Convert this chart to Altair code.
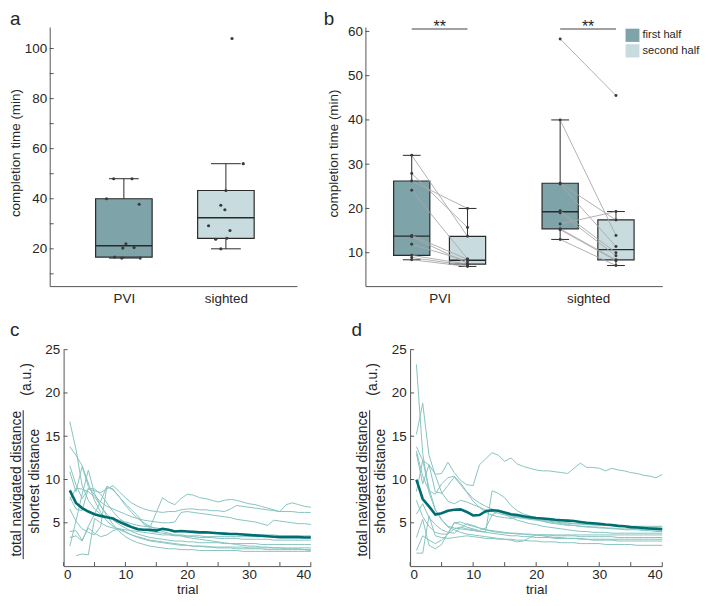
import math
import altair as alt
import pandas as pd

# ------------------------------------------------------------------ data
groups = ["PVI", "sighted"]
halves = ["first half", "second half"]

# panel a : total completion time (min), with horizontal jitter (category units)
a_pvi = [40.0, 48.0, 48.0, 37.8, 22.0, 20.3, 20.5, 16.7, 16.3, 16.3]
a_pvi_jit = [-0.17, -0.10, 0.08, 0.15, 0.02, -0.01, 0.10, -0.09, -0.02, 0.16]
a_sig = [104.0, 54.0, 43.3, 37.4, 35.6, 29.2, 27.3, 23.8, 24.2, 20.0]
a_sig_jit = [0.06, 0.17, 0.00, -0.05, -0.01, -0.17, 0.04, -0.10, 0.01, -0.05]

# panel b : completion time per half (paired by index)
b_pvi_first = [32.0, 27.9, 26.2, 24.1, 13.9, 13.6, 11.9, 9.4, 8.9, 8.4]
b_pvi_second = [13.7, 15.7, 20.0, 8.6, 8.5, 7.6, 8.1, 7.4, 7.1, 6.9]
b_sig_first = [58.3, 40.0, 25.7, 25.5, 19.5, 19.0, 16.5, 15.4, 15.2, 13.0]
b_sig_second = [45.5, 13.9, 17.4, 11.4, 10.0, 9.3, 19.3, 8.4, 8.2, 7.1]
sig_labels = ["**", "**"]

# panels c, d : total navigated distance / shortest distance per trial
trials = list(range(1, 41))
c_lines = [
    [3.3, 3.5, 2.9, 4.6, 6.0, 7.5, 9.2, 8.8, 8.0, 7.2, 6.5, 5.8, 4.8, 4.5, 6.2, 7.9, 7.4, 7.1, 7.8, 8.3,
     8.2, 7.9, 7.8, 7.6, 7.4, 7.6, 7.7, 7.6, 7.4, 7.2, 7.1, 6.9, 6.7, 6.5, 6.3, 7.1, 7.3, 7.1, 6.9, 6.8],
    [11.6, 9.4, 7.8, 8.9, 8.7, 8.5, 8.9, 9.3, 8.6, 7.9, 7.3, 6.9, 6.6, 6.4, 6.3, 6.2, 6.3, 6.3, 6.5, 6.6,
     6.6, 6.5, 6.5, 6.4, 6.4, 6.3, 6.6, 7.0, 6.9, 6.8, 6.7, 6.6, 6.5, 6.4, 6.3, 6.3, 6.3, 6.2, 6.2, 6.2],
    [10.9, 8.6, 11.5, 9.2, 8.2, 7.4, 6.9, 6.6, 6.3, 6.0, 5.7, 5.5, 5.3, 5.2, 5.1, 5.0, 5.0, 5.1, 6.2, 6.3,
     6.2, 6.1, 6.0, 5.9, 5.8, 5.7, 5.6, 5.4, 5.3, 5.2, 5.1, 4.9, 4.7, 5.3, 5.2, 5.1, 5.0, 4.9, 4.9, 4.8],
    [16.7, 13.5, 9.3, 7.6, 6.6, 6.0, 5.6, 5.4, 5.3, 5.1, 4.9, 4.7, 4.6, 4.5, 4.4, 4.3, 4.2, 4.1, 4.0, 4.0,
     3.9, 3.9, 3.9, 3.8, 3.8, 3.8, 3.7, 3.7, 3.7, 3.7, 3.6, 3.6, 3.6, 3.6, 3.5, 3.5, 3.5, 3.5, 3.5, 3.5],
    [None, 1.2, 1.4, 1.3, 5.5, 5.0, 4.6, 4.4, 4.3, 4.2, 4.1, 4.0, 3.9, 3.8, 3.7, 3.6, 3.6, 3.5, 3.5, 3.4,
     3.4, 3.3, 3.3, 3.3, 3.2, 3.2, 3.2, 3.2, 3.1, 3.1, 3.1, 3.1, 3.1, 3.0, 3.0, 3.0, 3.0, 3.0, 3.0, 3.0],
    [2.3, 5.2, 8.3, 11.1, 8.4, 6.9, 6.0, 5.3, 4.8, 4.4, 4.0, 3.7, 3.5, 3.3, 3.2, 3.1, 3.0, 2.9, 2.9, 2.8,
     2.8, 2.7, 2.7, 2.7, 2.7, 2.6, 2.6, 2.6, 2.6, 2.6, 2.6, 2.5, 2.5, 2.5, 2.5, 2.5, 2.5, 2.5, 2.5, 2.5],
    [4.0, 4.1, 3.0, 4.4, 3.8, 3.4, 3.6, 4.1, 4.3, 4.0, 3.6, 3.3, 3.1, 2.9, 2.8, 2.7, 2.6, 2.5, 2.4, 2.4,
     2.3, 2.3, 2.3, 2.2, 2.2, 2.2, 2.2, 2.2, 2.2, 2.1, 2.1, 2.1, 2.1, 2.1, 2.1, 2.1, 2.1, 2.1, 2.1, 2.1],
    [13.8, 12.8, 11.6, 9.6, 7.6, 6.2, 5.2, 4.6, 4.2, 3.9, 3.6, 3.4, 3.2, 3.0, 2.9, 2.8, 2.7, 2.6, 2.5, 2.4,
     2.3, 2.3, 2.2, 2.2, 2.1, 2.1, 2.1, 2.0, 2.0, 2.0, 2.0, 2.0, 1.9, 1.9, 1.9, 1.9, 1.9, 1.9, 1.9, 1.9],
    [7.6, 9.0, 8.9, 8.6, 8.0, 7.0, 5.8, 4.8, 4.0, 3.4, 3.0, 2.7, 2.5, 2.3, 2.2, 2.1, 2.0, 2.0, 1.9, 1.9,
     1.9, 1.8, 1.8, 1.8, 1.8, 1.8, 1.8, 1.8, 1.7, 1.7, 1.7, 1.7, 1.7, 1.7, 1.7, 1.7, 1.7, 1.7, 1.7, 1.7],
    [6.6, 5.2, 4.3, 3.9, 3.6, 4.6, 9.2, 8.9, 8.0, 7.0, 6.2, 5.5, 5.0, 4.6, 4.3, 4.0, 3.8, 3.6, 3.5, 3.3,
     3.2, 3.1, 3.0, 2.9, 2.8, 2.7, 2.6, 2.5, 2.4, 2.3, 2.3, 2.2, 2.2, 2.1, 2.1, 2.0, 2.0, 2.0, 1.9, 1.8],
    [8.0, 6.6, 6.4, 9.0, 8.9, 8.3, 7.3, 6.3, 5.5, 5.0, 4.6, 4.4, 4.2, 4.0, 3.9, 3.8, 3.7, 3.6, 3.6, 3.5,
     3.5, 3.5, 3.4, 3.4, 3.4, 3.4, 3.4, 3.4, 3.4, 3.4, 3.4, 3.4, 3.4, 3.4, 3.4, 3.4, 3.4, 3.4, 3.4, 3.4],
]
c_mean = [8.75, 7.3, 6.7, 6.3, 6.0, 5.8, 5.65, 5.5, 5.1, 4.8, 4.5, 4.25, 4.2, 4.2, 4.1, 4.3, 4.2, 4.0, 4.05, 4.0,
          3.95, 3.9, 3.9, 3.85, 3.8, 3.75, 3.7, 3.7, 3.65, 3.6, 3.55, 3.5, 3.45, 3.4, 3.35, 3.35, 3.35, 3.35, 3.3, 3.3]

d_lines = [
    [13.8, 12.2, 11.7, 10.6, 10.7, 12.0, 10.8, 9.9, 9.4, 9.3, 11.7, 12.4, 13.1, 12.8, 12.1, 12.5, 11.8, 11.5, 11.3, 11.1,
     11.0, 11.0, 10.9, 10.8, 10.7, 11.3, 11.9, 11.4, 11.4, 11.3, 11.0, 11.3, 11.1, 11.0, 10.8, 10.7, 10.5, 10.4, 10.2, 10.6],
    [23.3, 13.0, 8.5, 6.5, 5.3, 4.6, 4.4, 4.3, 4.2, 4.1, 4.0, 4.0, 8.7, 8.4, 7.9, 7.0, 6.4, 6.0, 5.8, 5.6,
     5.4, 5.3, 5.2, 5.1, 5.0, 4.9, 4.9, 4.8, 4.8, 4.7, 4.7, 4.7, 4.6, 4.6, 4.6, 4.6, 4.6, 4.6, 4.6, 4.6],
    [15.2, 18.8, 12.8, 10.5, 8.5, 7.5, 7.2, 7.6, 7.4, 7.1, 6.8, 6.5, 6.3, 6.1, 5.9, 5.8, 5.7, 5.6, 5.5, 5.4,
     5.3, 5.2, 5.1, 5.0, 4.95, 4.9, 4.85, 4.8, 4.75, 4.7, 4.7, 4.65, 4.6, 4.6, 4.55, 4.55, 4.5, 4.5, 4.5, 4.5],
    [13.3, 10.4, 8.7, 8.3, 9.5, 10.2, 10.4, 9.6, 8.6, 7.8, 7.3, 6.9, 6.6, 6.3, 6.0, 5.8, 5.6, 5.5, 5.4, 5.3,
     5.2, 5.1, 5.0, 4.9, 4.8, 4.7, 4.6, 4.5, 4.5, 4.4, 4.4, 4.3, 4.3, 4.2, 4.2, 4.2, 4.1, 4.1, 4.0, 4.0],
    [7.6, 5.7, 4.6, 3.9, 3.7, 3.7, 5.0, 4.8, 4.5, 4.3, 4.1, 4.4, 5.9, 6.3, 6.0, 5.6, 5.3, 5.1, 4.9, 4.8,
     4.6, 4.5, 4.4, 4.3, 4.2, 4.1, 4.0, 4.0, 3.9, 3.9, 3.9, 3.8, 3.8, 3.8, 3.8, 3.8, 3.8, 3.8, 3.8, 3.8],
    [3.3, 5.4, 2.4, 2.0, 2.5, 3.8, 5.0, 5.1, 4.8, 4.6, 4.4, 4.2, 4.1, 4.0, 3.9, 3.8, 3.8, 3.7, 3.7, 3.6,
     3.6, 3.6, 3.5, 3.5, 3.5, 3.5, 3.4, 3.4, 3.4, 3.4, 3.4, 3.4, 3.3, 3.3, 3.3, 3.3, 3.3, 3.3, 3.3, 3.3],
    [1.8, 3.5, 3.0, 2.6, 3.0, 3.7, 4.3, 4.5, 4.3, 4.2, 4.0, 3.9, 3.8, 3.7, 3.6, 3.5, 3.5, 3.4, 3.4, 3.3,
     3.3, 3.3, 3.2, 3.2, 3.2, 3.2, 3.2, 3.1, 3.1, 3.1, 3.1, 3.1, 3.1, 3.1, 3.1, 3.1, 3.1, 3.1, 3.1, 3.1],
    [1.5, 1.5, 5.8, 3.5, 3.3, 3.2, 3.3, 3.4, 3.5, 3.4, 3.3, 3.2, 3.2, 3.1, 3.1, 3.0, 2.8, 2.9, 3.3, 3.6,
     3.5, 3.4, 3.3, 3.3, 3.2, 3.2, 3.1, 3.1, 3.0, 3.0, 3.0, 3.0, 2.9, 2.9, 2.9, 2.9, 2.9, 2.9, 2.9, 2.9],
    [8.6, 12.2, 9.0, 6.5, 5.4, 4.5, 4.2, 3.9, 3.7, 3.6, 3.5, 3.4, 3.3, 3.2, 3.1, 3.1, 3.0, 3.0, 2.9, 2.9,
     2.8, 2.8, 2.8, 2.7, 2.7, 2.7, 2.6, 2.6, 2.6, 2.6, 2.5, 2.5, 2.5, 2.5, 2.5, 2.4, 2.4, 2.4, 2.4, 2.4],
    [13.0, 9.5, 11.7, 8.6, 8.4, 9.3, 10.3, 9.4, 8.5, 7.5, 6.8, 6.2, 5.9, 5.7, 5.6, 5.5, 5.7, 5.6, 5.5, 5.4,
     5.2, 5.0, 4.9, 4.8, 4.7, 4.7, 4.6, 4.6, 4.5, 4.5, 4.4, 4.4, 4.3, 4.3, 4.3, 4.3, 4.2, 4.2, 4.2, 4.2],
    [6.0, 7.2, 5.6, 4.8, 4.2, 3.9, 3.8, 4.4, 4.9, 4.7, 4.4, 4.2, 4.0, 3.9, 3.8, 3.8, 3.7, 3.7, 3.6, 3.6,
     3.6, 3.6, 3.6, 3.6, 3.6, 3.6, 3.6, 3.6, 3.6, 3.6, 3.6, 3.6, 3.6, 3.6, 3.6, 3.6, 3.6, 3.6, 3.6, 3.6],
]
d_mean = [10.0, 7.75, 6.9, 5.95, 6.1, 6.4, 6.5, 6.55, 6.25, 5.85, 5.9, 6.35, 6.45, 6.4, 6.2, 6.0, 5.9, 5.75, 5.65, 5.55,
          5.5, 5.45, 5.35, 5.3, 5.25, 5.2, 5.1, 5.0, 4.95, 4.9, 4.8, 4.75, 4.65, 4.6, 4.5, 4.45, 4.4, 4.35, 4.3, 4.25]

# ------------------------------------------------------------------ style
FONT = "Liberation Sans"
TXT = "#262626"
AXC = "#555555"
BOXC = "#2a2a2a"
DARK = "#7ea3a8"
LIGHT = "#c8dcdf"
PTC = "#3a3a3a"
PAIRC = "#a8a8a8"
THIN = "#86c4c1"
MEANC = "#006e70"
FS = 13.5


def quartiles(vals):
    s = sorted(vals)
    n = len(s)

    def pct(p):
        pos = p / 100.0 * n + 0.5
        if pos <= 1:
            return s[0]
        if pos >= n:
            return s[-1]
        lo = int(math.floor(pos))
        f = pos - lo
        return s[lo - 1] + f * (s[lo] - s[lo - 1])

    q1, med, q3 = pct(25), pct(50), pct(75)
    iqr = q3 - q1
    return dict(q1=q1, med=med, q3=q3,
                lo=min(v for v in s if v >= q1 - 1.5 * iqr),
                hi=max(v for v in s if v <= q3 + 1.5 * iqr))


one = pd.DataFrame({"k": [0]})


def text(t, x, y, size=FS, angle=0, align="center", baseline="middle"):
    kw = dict(text=t, font=FONT, fontSize=size, color=TXT, align=align, baseline=baseline)
    if angle:
        kw["angle"] = angle
    return alt.Chart(one).mark_text(**kw).encode(x=alt.value(x), y=alt.value(y))


# ------------------------------------------------------------------ panel a
AW, AH = 249, 261
xs_a = alt.Scale(domain=[0.273, 2.696], nice=False, zero=False)
ys_a = alt.Scale(domain=[5.1, 108.6], nice=False, zero=False)
ax_xa = alt.Axis(values=[1, 2], labelExpr="datum.value == 1 ? 'PVI' : 'sighted'", title=None, labelPadding=5)
ax_ya = alt.Axis(values=[20, 40, 60, 80, 100], title=None, labelPadding=3)


def XA(f):
    return alt.X(f, scale=xs_a, axis=ax_xa)


def YA(f):
    return alt.Y(f, scale=ys_a, axis=ax_ya)


fill_a = {"PVI": DARK, "sighted": LIGHT}
a_box = pd.DataFrame([dict(grp=g, pos=i + 1, fill=fill_a[g], **quartiles(v))
                      for i, (g, v) in enumerate(zip(groups, [a_pvi, a_sig]))])
a_pts = pd.DataFrame({"pos": [1] * len(a_pvi) + [2] * len(a_sig),
                      "jit": a_pvi_jit + a_sig_jit, "val": a_pvi + a_sig})
a_ticks = pd.DataFrame({"v": list(range(10, 101, 10))})

ba = alt.Chart(a_box).transform_calculate(
    b1="datum.pos - 0.277", b2="datum.pos + 0.277", c1="datum.pos - 0.146", c2="datum.pos + 0.146")
panel_a = alt.layer(
    ba.mark_rule(color=BOXC, strokeWidth=1).encode(x=XA("pos:Q"), y=YA("lo:Q"), y2="hi:Q"),
    ba.mark_rule(color=BOXC, strokeWidth=1).encode(x=XA("c1:Q"), x2="c2:Q", y=YA("hi:Q")),
    ba.mark_rule(color=BOXC, strokeWidth=1).encode(x=XA("c1:Q"), x2="c2:Q", y=YA("lo:Q")),
    ba.mark_rect(stroke=BOXC, strokeWidth=1.2).encode(
        x=XA("b1:Q"), x2="b2:Q", y=YA("q1:Q"), y2="q3:Q", fill=alt.Fill("fill:N", scale=None)),
    ba.mark_rule(color=BOXC, strokeWidth=1.4).encode(x=XA("b1:Q"), x2="b2:Q", y=YA("med:Q")),
    alt.Chart(a_pts).transform_calculate(px="datum.pos + datum.jit").mark_circle(
        size=10, color=PTC, opacity=1).encode(x=XA("px:Q"), y=YA("val:Q")),
    alt.Chart(a_ticks).mark_rule(color=AXC, strokeWidth=1).encode(y=YA("v:Q"), x=alt.value(0), x2=alt.value(4)),
    text("completion time (min)", -34.2, 127, angle=270),
    text("a", -40, -2, size=19, align="left", baseline="alphabetic"),
    alt.Chart(one).mark_rule(strokeOpacity=0, strokeWidth=0.5).encode(
        x=alt.value(-41), x2=alt.value(-40), y=alt.value(-17)),
).properties(width=AW, height=AH)

# ------------------------------------------------------------------ panel b
BW, BH = 299, 261
OFF = 0.188
xs_b = alt.Scale(domain=[0.5, 2.5], nice=False, zero=False)
ys_b = alt.Scale(domain=[2.45, 61], nice=False, zero=False)
ax_xb = alt.Axis(values=[1, 2], labelExpr="datum.value == 1 ? 'PVI' : 'sighted'", title=None, labelPadding=5)
ax_yb = alt.Axis(values=[10, 20, 30, 40, 50, 60], title=None, labelPadding=3)


def XB(f):
    return alt.X(f, scale=xs_b, axis=ax_xb)


def YB(f):
    return alt.Y(f, scale=ys_b, axis=ax_yb)


fill_b = {"first half": DARK, "second half": LIGHT}
b_vals = {"PVI": (b_pvi_first, b_pvi_second), "sighted": (b_sig_first, b_sig_second)}
box_rows, pt_rows, pair_rows = [], [], []
for gi, g in enumerate(groups, start=1):
    firsts, seconds = b_vals[g]
    for hi, (h, vals) in enumerate(zip(halves, [firsts, seconds])):
        pos = gi - OFF if hi == 0 else gi + OFF
        box_rows.append(dict(grp=g, half=h, pos=pos, fill=fill_b[h], **quartiles(vals)))
        pt_rows += [dict(pos=pos, val=v) for v in vals]
    pair_rows += [dict(xa=gi - OFF, xb=gi + OFF, ya=f, yb=s) for f, s in zip(firsts, seconds)]
b_box = pd.DataFrame(box_rows)
b_pts = pd.DataFrame(pt_rows)
b_pairs = pd.DataFrame(pair_rows)
b_sig = pd.DataFrame({"pos": [1, 2], "label": sig_labels})
b_ticks = pd.DataFrame({"v": list(range(10, 61, 10))})

bb = alt.Chart(b_box).transform_calculate(
    b1="datum.pos - 0.122", b2="datum.pos + 0.122", c1="datum.pos - 0.06", c2="datum.pos + 0.06")
bs = alt.Chart(b_sig).transform_calculate(s1="datum.pos - %f" % OFF, s2="datum.pos + %f" % OFF)
panel_b = alt.layer(
    bb.mark_rule(color=BOXC, strokeWidth=1).encode(x=XB("pos:Q"), y=YB("lo:Q"), y2="hi:Q"),
    bb.mark_rule(color=BOXC, strokeWidth=1).encode(x=XB("c1:Q"), x2="c2:Q", y=YB("hi:Q")),
    bb.mark_rule(color=BOXC, strokeWidth=1).encode(x=XB("c1:Q"), x2="c2:Q", y=YB("lo:Q")),
    bb.mark_rect(stroke=BOXC, strokeWidth=1.2).encode(
        x=XB("b1:Q"), x2="b2:Q", y=YB("q1:Q"), y2="q3:Q", fill=alt.Fill("fill:N", scale=None)),
    bb.mark_rule(color=BOXC, strokeWidth=1.4).encode(x=XB("b1:Q"), x2="b2:Q", y=YB("med:Q")),
    alt.Chart(b_pairs).mark_rule(color=PAIRC, strokeWidth=0.9).encode(
        x=XB("xa:Q"), x2="xb:Q", y=YB("ya:Q"), y2="yb:Q"),
    alt.Chart(b_pts).mark_circle(size=9, color=PTC, opacity=1).encode(x=XB("pos:Q"), y=YB("val:Q")),
    alt.Chart(b_ticks).mark_rule(color=AXC, strokeWidth=1).encode(y=YB("v:Q"), x=alt.value(0), x2=alt.value(4)),
    bs.mark_rule(color="#444444", strokeWidth=1.2).encode(x=XB("s1:Q"), x2="s2:Q", y=alt.value(2)),
    bs.mark_text(font=FONT, fontSize=16, color=TXT, baseline="alphabetic").encode(
        x=XB("pos:Q"), y=alt.value(5), text="label:N"),
    alt.Chart(one).mark_rect(color=DARK).encode(
        x=alt.value(262), x2=alt.value(276), y=alt.value(1.7), y2=alt.value(15)),
    alt.Chart(one).mark_rect(color=LIGHT).encode(
        x=alt.value(262), x2=alt.value(276), y=alt.value(17.3), y2=alt.value(30.7)),
    text(halves[0], 279, 8.5, size=11.2, align="left"),
    text(halves[1], 279, 24.2, size=11.2, align="left"),
    text("completion time (min)", -31.5, 127.5, angle=270),
    text("b", -42, -2, size=19, align="left", baseline="alphabetic"),
).properties(width=BW, height=BH)

# ------------------------------------------------------------------ panels c, d
CW, CH = 249, 218
DW = 254
xs_c = alt.Scale(domain=[0, 40], nice=False, zero=False)
ys_c = alt.Scale(domain=[0, 25], nice=False, zero=False)
ax_xc = alt.Axis(values=[0, 10, 20, 30, 40], title="trial", labelPadding=1, titlePadding=2)
ax_yc = alt.Axis(values=[5, 10, 15, 20, 25], title=None, labelPadding=4)


def XC(f):
    return alt.X(f, scale=xs_c, axis=ax_xc)


def YC(f):
    return alt.Y(f, scale=ys_c, axis=ax_yc)


def long_df(lines):
    rows = []
    for i, ln in enumerate(lines):
        for t, v in zip(trials, ln):
            if v is not None:
                rows.append(dict(id=i, t=t, v=v))
    return pd.DataFrame(rows)


xt = pd.DataFrame({"t": list(range(0, 41, 5))})
yt = pd.DataFrame({"v": [5, 10, 15, 20, 25]})


def traj_panel(lines, mean, letter, letter_x, w):
    return alt.layer(
        alt.Chart(long_df(lines)).mark_line(color=THIN, strokeWidth=1).encode(
            x=XC("t:Q"), y=YC("v:Q"), detail="id:N"),
        alt.Chart(pd.DataFrame({"t": trials, "v": mean})).mark_line(color=MEANC, strokeWidth=2.6).encode(
            x=XC("t:Q"), y=YC("v:Q")),
        alt.Chart(xt).mark_rule(color=AXC, strokeWidth=1).encode(
            x=XC("t:Q"), y=alt.value(CH), y2=alt.value(CH - 4)),
        alt.Chart(yt).mark_rule(color=AXC, strokeWidth=1).encode(
            y=YC("v:Q"), x=alt.value(0), x2=alt.value(4)),
        text("total navigated distance", -47.2, 135, size=14, angle=270),
        text("shortest distance", -29.2, 132.5, size=14, angle=270),
        text("(a.u.)", -37, 30, size=14, angle=270),
        alt.Chart(one).mark_rule(color=TXT, strokeWidth=1).encode(
            x=alt.value(-40.7), y=alt.value(61), y2=alt.value(211)),
        text(letter, letter_x, -14, size=19, align="left", baseline="alphabetic"),
    ).properties(width=w, height=CH)


panel_c = traj_panel(c_lines, c_mean, "c", -54, CW)
panel_d = traj_panel(d_lines, d_mean, "d", -59, DW)

spacer = alt.Chart(one).mark_point(opacity=0, size=1).properties(width=1, height=1)

row1 = alt.hconcat(panel_a, panel_b, spacing=69, bounds="flush")
row2 = alt.hconcat(spacer, alt.hconcat(panel_c, panel_d, spacing=100, bounds="flush"),
                   spacing=13, bounds="flush")

chart = alt.vconcat(row1, row2, spacing=16).properties(
    padding=0
).configure_view(stroke=None).configure_axis(
    labelFont=FONT, titleFont=FONT, labelFontSize=FS, titleFontSize=FS, titleFontWeight="normal",
    labelColor=TXT, titleColor=TXT, domainColor=AXC, domainWidth=1, ticks=False, grid=False,
)

chart.save("out.html", embed_options={"renderer": "svg", "actions": False})
